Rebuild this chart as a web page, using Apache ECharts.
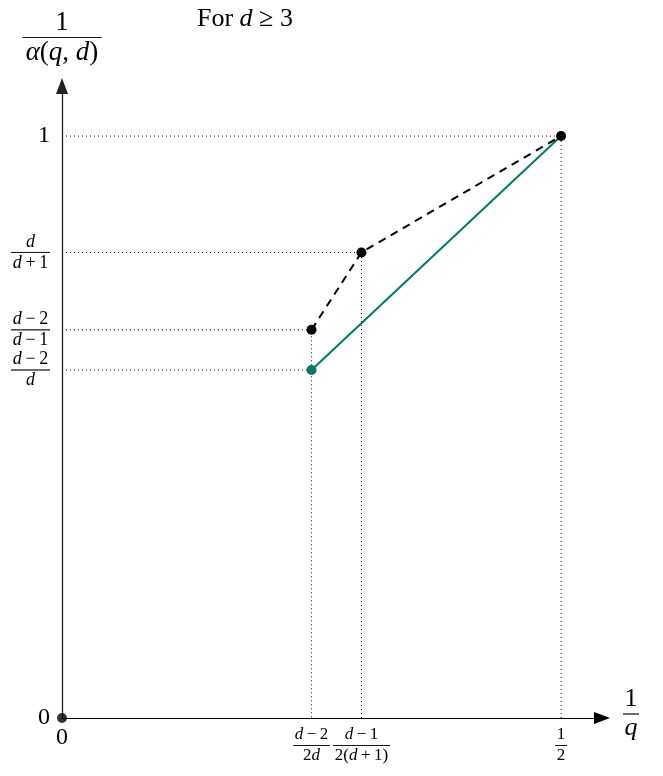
<!DOCTYPE html>
<html>
<head>
<meta charset="utf-8">
<script src="https://cdn.jsdelivr.net/npm/echarts@6/dist/echarts.min.js"></script>
<style>html,body{margin:0;padding:0;background:#fff}#c{width:663px;height:776px}</style>
</head>
<body>
<div id="c"></div>
<script>
// ---- data ----
const xTicks = [0, 0.25, 0.3, 0.5];
const xTickLabels = [['0'], ['{i|d}\u2009−\u20092', '2{i|d}'], ['{i|d}\u2009−\u20091', '2({i|d}\u2009+\u20091)'], ['1', '2']];
const yTicks = [0, 0.598, 0.667, 0.8, 1];
const yTickLabels = [['0'], ['{i|d}\u2009−\u20092', '{i|d}'], ['{i|d}\u2009−\u20092', '{i|d}\u2009−\u20091'], ['{i|d}', '{i|d}\u2009+\u20091'], ['1']];
const dashedX = [0.25, 0.3, 0.5];
const dashedY = [0.667, 0.8, 1];
const greenX = [0.25, 0.5];
const greenY = [0.598, 1];

const FONT = 'Liberation Serif';
const chart = echarts.init(document.getElementById('c'), null, {renderer: 'canvas'});
const ctx = document.createElement('canvas').getContext('2d');

function pieces(s) {
  return s.split(/(\{i\|[^}]*\})/).filter(p => p.length).map(p =>
    p.startsWith('{i|') ? {t: p.slice(3, -1), it: true} : {t: p, it: false});
}
function measure(s, size) {
  let w = 0;
  pieces(s).forEach(p => {
    ctx.font = (p.it ? 'italic ' : '') + size + 'px "' + FONT + '"';
    w += ctx.measureText(p.t).width;
  });
  return w;
}
function wrap(s, st) {
  return pieces(s).map(p => '{' + st + (p.it ? 'i' : '') + '|' + p.t + '}').join('');
}
// builds a rich-text fraction; registers a bar style with the measured width
function makeFrac(parts, size, rich, pre, extra) {
  if (parts.length === 1) return '{' + pre + 'big|' + parts[0] + '}';
  const w = Math.ceil(Math.max(measure(parts[0], size), measure(parts[1], size))) + (extra || 3);
  const key = pre + 'bar' + w;
  rich[key] = {width: w, height: 0, borderColor: '#000', borderWidth: 0.7, lineHeight: 3, align: 'center'};
  return wrap(parts[0], pre + 'n') + '\n{' + key + '|}\n' + wrap(parts[1], pre + 'n');
}
function baseRich(size, bigSize, lh) {
  return {
    big: {fontFamily: FONT, fontSize: bigSize, color: '#000'},
    n: {fontFamily: FONT, fontSize: size, color: '#000', align: 'center', lineHeight: lh},
    ni: {fontFamily: FONT, fontSize: size, fontStyle: 'italic', color: '#000', align: 'center', lineHeight: lh}
  };
}
const xRich = baseRich(17, 24, 18);
const yRich = baseRich(18, 24, 18);
const xLabelStr = xTickLabels.map(p => makeFrac(p, 17, xRich, ''));
const yLabelStr = yTickLabels.map(p => makeFrac(p, 18, yRich, ''));

const yNameRich = baseRich(27, 27, 27);
const yNameStr = makeFrac(['1', '{i|α}({i|q}, {i|d})'], 27, yNameRich, '', 6);
const xNameRich = baseRich(26, 26, 26);
const xNameStr = makeFrac(['1', '{i|q}'], 26, xNameRich, '');

// guide lines (dotted)
const guides = [];
for (let k = 0; k < dashedX.length; k++) {
  guides.push([[0, dashedY[k]], [dashedX[k], dashedY[k]], [dashedX[k], 0]]);
}
guides.push([[0, greenY[0]], [greenX[0], greenY[0]]]);

const series = guides.map(g => ({
  type: 'line', data: g, symbol: 'none', silent: true, z: 1,
  lineStyle: {type: [1, 3], width: 1, color: '#111'}
}));
series.push({
  type: 'line', z: 3,
  data: greenX.map((x, k) => ({value: [x, greenY[k]], symbol: k === 0 ? 'circle' : 'none'})),
  symbolSize: 10,
  lineStyle: {color: '#00796B', width: 2},
  itemStyle: {color: '#00796B'}
});
series.push({
  type: 'line', z: 4,
  data: dashedX.map((x, k) => [x, dashedY[k]]),
  symbol: 'circle', symbolSize: 10,
  lineStyle: {color: '#000', width: 2, type: [8, 6]},
  itemStyle: {color: '#000'}
});
series.push({
  type: 'scatter', z: 5, data: [[0, 0]], symbolSize: 10, itemStyle: {color: '#000'}
});

chart.setOption({
  animation: false,
  backgroundColor: '#fff',
  title: {
    left: 197, top: 6, padding: 0,
    text: '{t|For }{ti|d}{t|\u2005≥\u20053}',
    textStyle: {fontWeight: 'normal', rich: {
      t: {fontFamily: FONT, fontSize: 26, fontWeight: 'normal', color: '#000'},
      ti: {fontFamily: FONT, fontSize: 26, fontStyle: 'italic', fontWeight: 'normal', color: '#000'}
    }}
  },
  grid: {left: 62, right: 61, top: 86, bottom: 58, outerBoundsMode: 'none'},
  xAxis: {
    type: 'value', min: 0, max: 0.541,
    splitLine: {show: false},
    axisLine: {lineStyle: {color: '#000', width: 1.2}, symbol: ['none', 'triangle'], symbolSize: [12, 16]},
    axisTick: {show: false},
    axisLabel: {
      customValues: xTicks, margin: 8,
      formatter: v => xLabelStr[xTicks.indexOf(v)],
      rich: xRich
    },
    name: xNameStr,
    nameLocation: 'end', nameGap: 21,
    nameTextStyle: {align: 'left', verticalAlign: 'middle', padding: [0, 0, 8, 0], rich: xNameRich}
  },
  yAxis: {
    type: 'value', min: 0, max: 1.086,
    splitLine: {show: false},
    axisLine: {lineStyle: {color: '#222', width: 1.3}, symbol: ['none', 'triangle'], symbolSize: [12, 16]},
    axisTick: {show: false},
    axisLabel: {
      customValues: yTicks, margin: 12,
      formatter: v => yLabelStr[yTicks.indexOf(v)],
      rich: yRich
    },
    name: yNameStr,
    nameLocation: 'end', nameGap: 20,
    nameTextStyle: {align: 'center', verticalAlign: 'bottom', rich: yNameRich}
  },
  series: series
});
</script>
</body>
</html>
